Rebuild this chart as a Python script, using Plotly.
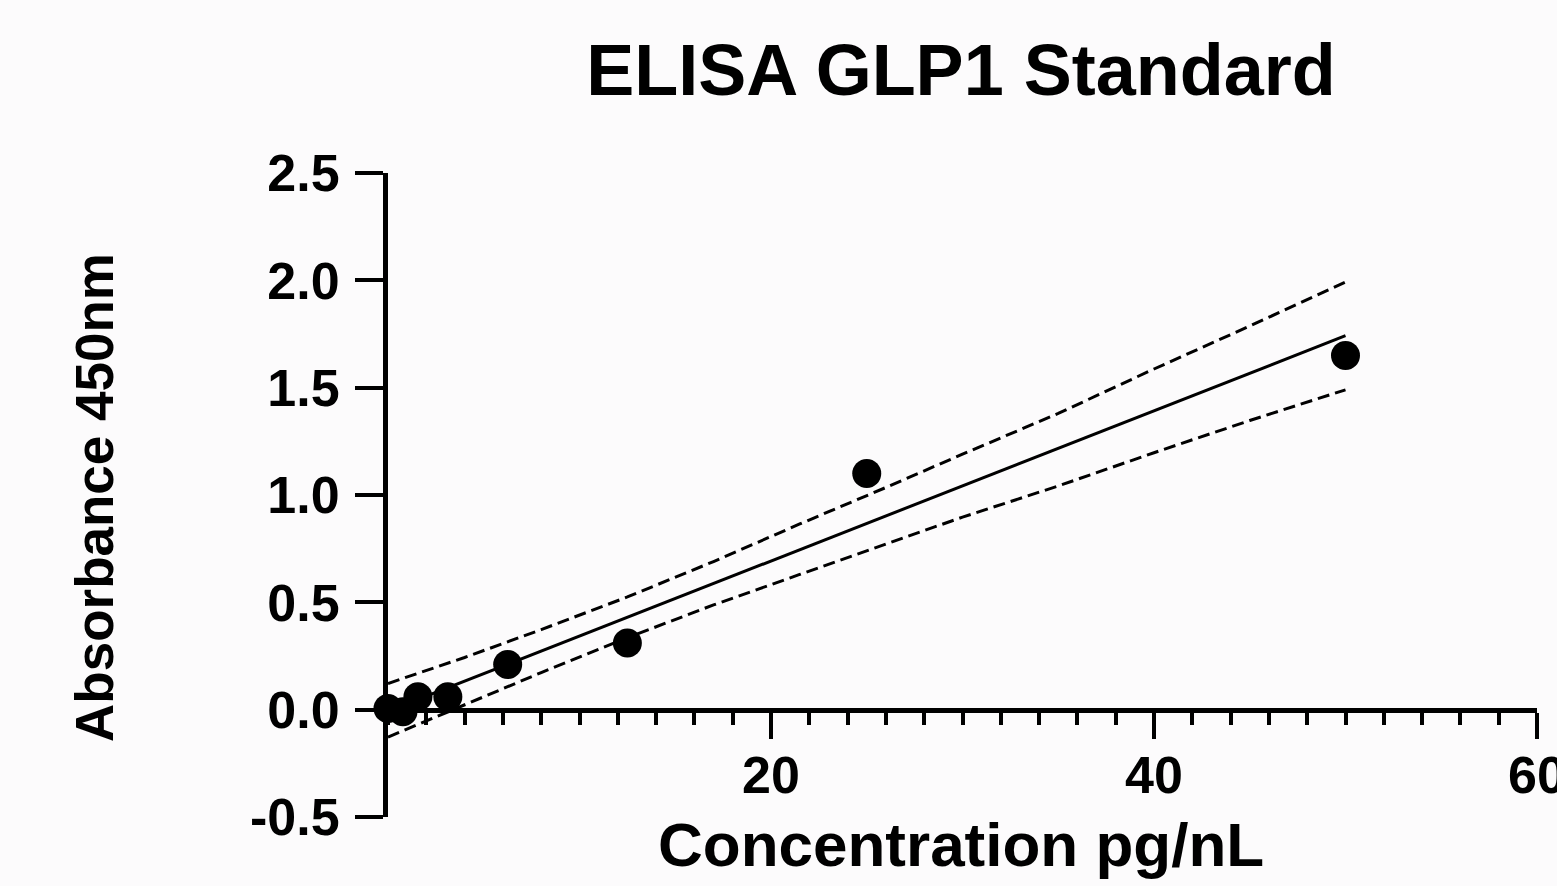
import plotly.graph_objects as go

# Data
conc = [0, 0.78, 1.5625, 3.125, 6.25, 12.5, 25, 50]
absorb = [0.005, -0.01, 0.06, 0.06, 0.21, 0.31, 1.10, 1.65]

fit_x = [0, 50]
fit_y = [-0.007, 1.742]

band_x = [0, 4, 8, 12.5, 17, 21.5, 26, 30, 35, 40, 45, 50]
band_upper = [0.122, 0.243, 0.373, 0.525, 0.690, 0.865, 1.035, 1.190, 1.380, 1.587, 1.787, 1.992]
band_lower = [-0.128, 0.023, 0.173, 0.335, 0.488, 0.630, 0.772, 0.897, 1.042, 1.197, 1.347, 1.490]

x_ticks = [20, 40, 60]
y_ticks = [-0.5, 0.0, 0.5, 1.0, 1.5, 2.0, 2.5]
y_ticktext = ["-0.5", "0.0", "0.5", "1.0", "1.5", "2.0", "2.5"]

FONT = "Liberation Sans, Arial, Helvetica, sans-serif"
W, H = 1557, 886
L, R, T, B = 388, 20, 173, 69
plot_w = W - L - R
plot_h = H - T - B

fig = go.Figure()
fig.add_trace(go.Scatter(x=band_x, y=band_upper, mode="lines",
                         line=dict(color="black", width=3, dash="12px,6px"),
                         hoverinfo="skip", cliponaxis=False))
fig.add_trace(go.Scatter(x=band_x, y=band_lower, mode="lines",
                         line=dict(color="black", width=3, dash="12px,6px"),
                         hoverinfo="skip", cliponaxis=False))
fig.add_trace(go.Scatter(x=fit_x, y=fit_y, mode="lines",
                         line=dict(color="black", width=3),
                         cliponaxis=False))
fig.add_trace(go.Scatter(x=conc, y=absorb, mode="markers",
                         marker=dict(color="black", size=29, symbol="circle"),
                         cliponaxis=False))

fig.update_layout(
    template="none",
    width=W, height=H,
    margin=dict(l=L, r=R, t=T, b=B, autoexpand=False),
    paper_bgcolor="#fcfbfc", plot_bgcolor="#fcfbfc",
    showlegend=False,
    font=dict(family=FONT, color="black"),
    title=dict(text="<b>ELISA GLP1 Standard</b>", x=961 / W, xanchor="center",
               y=1 - 70 / H, yanchor="middle", xref="container", yref="container",
               font=dict(size=72, family=FONT, color="black")),
    xaxis=dict(range=[0, 60], anchor="free", position=1 / 6, automargin=False,
               showline=True, linecolor="black", linewidth=5,
               ticks="outside", ticklen=26, tickwidth=4, tickcolor="black",
               tickvals=x_ticks, ticktext=[str(v) for v in x_ticks],
               tickfont=dict(size=52, family=FONT, color="black", weight="bold"),
               ticklabelstandoff=-8, ticklabeloverflow="allow",
               minor=dict(ticks="outside", ticklen=12, tickwidth=4, tickcolor="black",
                          dtick=2, tick0=0, showgrid=False),
               showgrid=False, zeroline=False),
    yaxis=dict(range=[-0.5, 2.5], domain=[0, 1], automargin=False,
               showline=True, linecolor="black", linewidth=5,
               ticks="outside", ticklen=28, tickwidth=4, tickcolor="black",
               tickvals=y_ticks, ticktext=y_ticktext,
               tickfont=dict(size=52, family=FONT, color="black", weight="bold"),
               ticklabelstandoff=5,
               showgrid=False, zeroline=False),
    annotations=[
        dict(text="<b>Concentration pg/nL</b>",
             x=(961 - L) / plot_w, y=(H - B - 844) / plot_h,
             xref="paper", yref="paper", xanchor="center", yanchor="middle",
             showarrow=False, font=dict(size=62, family=FONT, color="black")),
        dict(text="<b>Absorbance 450nm</b>",
             x=(95 - L) / plot_w, y=(H - B - 498) / plot_h,
             xref="paper", yref="paper", xanchor="center", yanchor="middle",
             showarrow=False, textangle=-90,
             font=dict(size=53, family=FONT, color="black")),
    ],
)

fig.write_html("out.html", config={"displayModeBar": False},
               post_script="document.body.style.margin='0';document.body.style.overflow='hidden';")
